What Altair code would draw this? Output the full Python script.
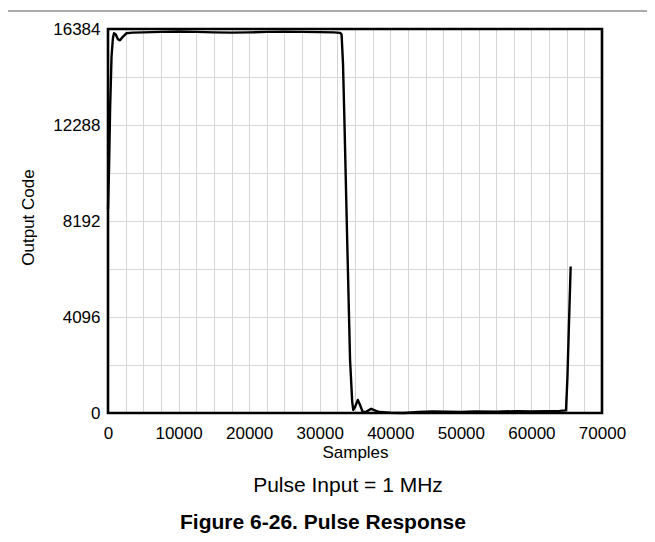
import altair as alt
import pandas as pd

# ---- data ----
samples = [0, 150, 300, 500, 700, 850, 1100, 1400, 1700, 2100, 2600, 3500, 5000,
           7500, 10000, 12500, 15000, 17500, 20000, 22500, 25000, 27500, 30000,
           32000, 32900, 33100, 33300, 33500, 33900, 34300, 34600, 34750, 35000,
           35400, 35700, 36100, 36600, 37300, 37900, 38500, 40000, 42000, 44000,
           46000, 48000, 50000, 52000, 55000, 58000, 60000, 62000, 64000, 64900,
           65100, 65300, 65560]
codes = [8700, 10500, 13000, 15200, 16000, 16200, 16150, 15950, 15900, 16050, 16200,
         16230, 16240, 16260, 16280, 16260, 16240, 16230, 16240, 16260, 16270, 16260,
         16250, 16240, 16220, 16150, 14900, 12500, 7300, 2260, 500, 130, 250, 560,
         350, 40, 60, 180, 100, 40, 10, 0, 40, 70, 60, 50, 70, 60, 80, 70, 80, 90,
         110, 1500, 3600, 6250]

x_grid = list(range(0, 70001, 2500))     # grid every 2500, labels every 10000
y_grid = list(range(0, 16385, 2048))     # grid every 2048, labels every 4096
x_title = "Samples"
y_title = "Output Code"
condition_text = ["Pulse Input = 1 MHz"]
caption_text = ["Figure 6-26. Pulse Response"]

FONT = "Liberation Sans"
W, H = 494, 384

df = pd.DataFrame({"Samples": samples, "Code": codes})

x_axis = alt.Axis(
    values=x_grid,
    labelExpr="datum.value % 10000 == 0 ? format(datum.value, 'd') : ''",
    title=x_title, grid=True, gridColor="#d6d6d6", gridWidth=1,
    ticks=False, tickSize=0, domain=False, labelPadding=12,
    labelFontSize=17, labelColor="black", labelFont=FONT,
    titleFontSize=17, titleFontWeight="normal", titleColor="black", titleFont=FONT,
    titleY=39, titleBaseline="middle",
    labelFlush=False, labelBound=False, labelOverlap=False,
)
y_axis = alt.Axis(
    values=y_grid,
    labelExpr="datum.value % 4096 == 0 ? format(datum.value, 'd') : ''",
    title=y_title, grid=True, gridColor="#d6d6d6", gridWidth=1,
    ticks=False, tickSize=0, domain=False, labelPadding=8,
    labelFontSize=17, labelColor="black", labelFont=FONT,
    titleFontSize=17, titleFontWeight="normal", titleColor="black", titleFont=FONT,
    titleX=-80, titleY=H / 2 - 4, titleAngle=270, titleAlign="center", titleBaseline="middle",
    labelFlush=False, labelBound=False, labelOverlap=False,
)

line = alt.Chart(df).mark_line(color="black", strokeWidth=2.4, strokeJoin="round").encode(
    x=alt.X("Samples:Q", scale=alt.Scale(domain=[0, 70000], nice=False, zero=False), axis=x_axis),
    y=alt.Y("Code:Q", scale=alt.Scale(domain=[0, 16384], nice=False, zero=False), axis=y_axis),
)

frame = alt.Chart(pd.DataFrame({"a": [0]})).mark_rect(
    fill=None, fillOpacity=0, stroke="black", strokeWidth=2.6
).encode(x=alt.value(0), x2=alt.value(W), y=alt.value(0), y2=alt.value(H))

cond = alt.Chart(pd.DataFrame({"t": condition_text})).mark_text(
    fontSize=21, font=FONT, color="black", align="center", baseline="middle"
).encode(text="t:N", x=alt.value(240), y=alt.value(457))

caption = alt.Chart(pd.DataFrame({"t": caption_text})).mark_text(
    fontSize=21, font=FONT, fontWeight="bold", color="black", align="center", baseline="middle"
).encode(text="t:N", x=alt.value(215), y=alt.value(494))

header = alt.Chart(pd.DataFrame({"a": [0]})).mark_rule(color="#555555", strokeWidth=1).encode(
    x=alt.value(-108), x2=alt.value(539), y=alt.value(-18)
)

chart = alt.layer(line, frame, cond, caption, header).properties(
    width=W, height=H,
    padding={"left": 100, "top": 21, "right": 45, "bottom": 120},
    autosize=alt.AutoSizeParams(type="none"),
    background="white",
).configure_view(stroke=None)

chart.save("out.html", embed_options={"renderer": "svg", "actions": False})
